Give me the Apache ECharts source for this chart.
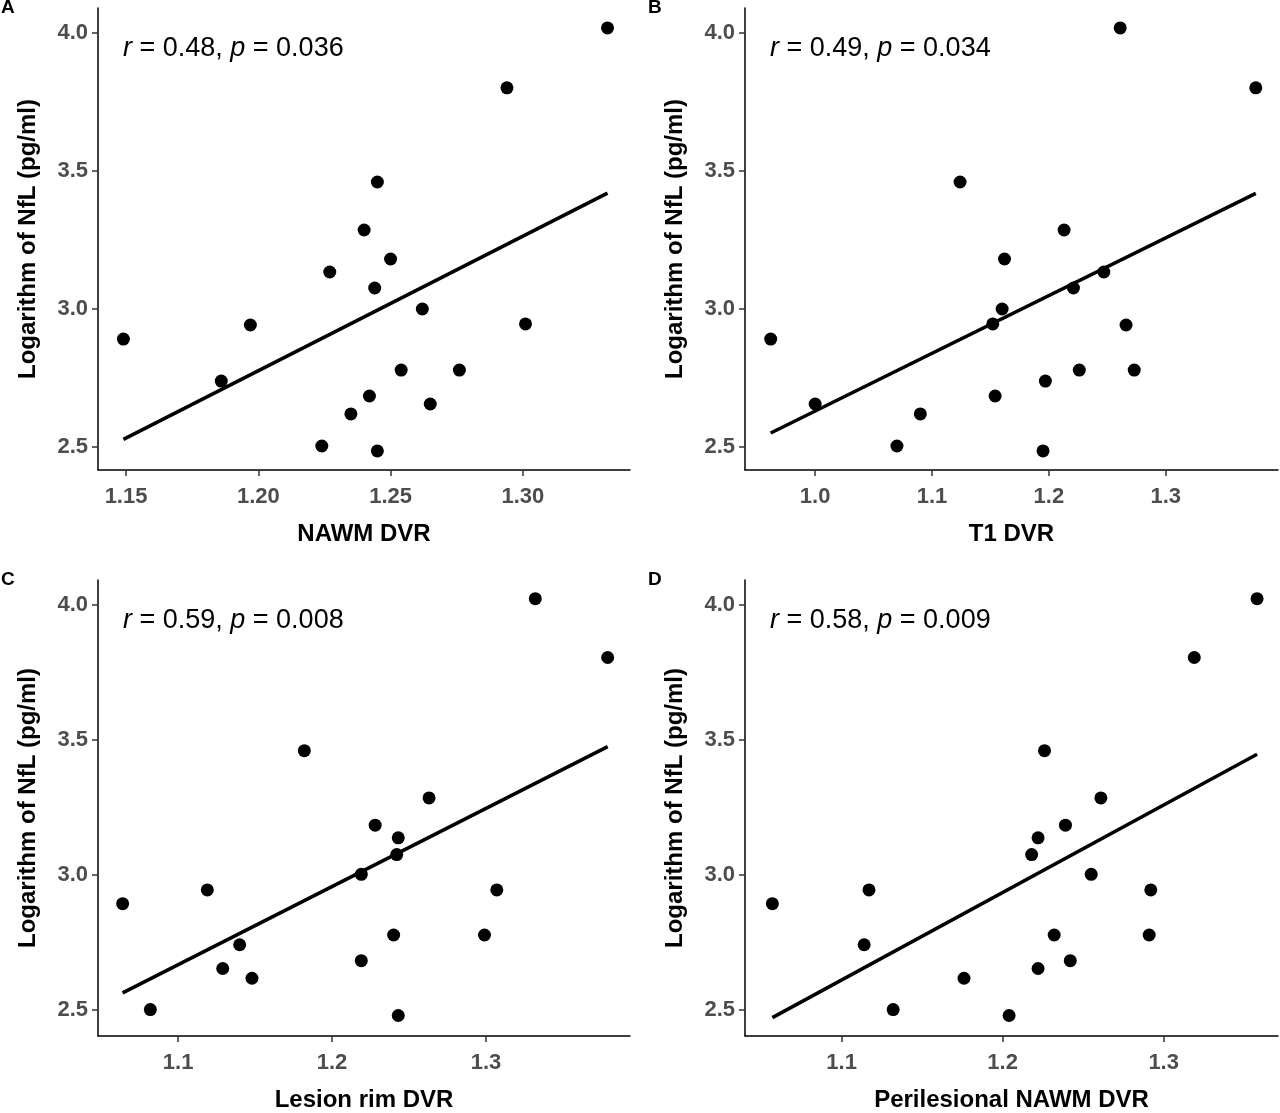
<!DOCTYPE html>
<html><head><meta charset="utf-8">
<script src="https://cdn.jsdelivr.net/npm/echarts@6/dist/echarts.min.js"></script>
<style>html,body{margin:0;background:#fff}#c{width:1280px;height:1113px}</style>
</head><body><div id="c"></div>
<script>
var nfl_A = [2.891,2.739,2.942,2.504,3.134,2.620,3.286,2.685,2.486,3.076,3.460,3.181,2.779,3.000,2.656,2.779,3.801,2.946,4.018];
var dvr_A = [1.149,1.186,1.197,1.224,1.227,1.235,1.240,1.242,1.245,1.244,1.245,1.250,1.254,1.262,1.265,1.276,1.294,1.301,1.332];
var nfl_B = [2.891,2.656,2.504,2.620,3.460,2.946,2.685,3.000,3.181,2.486,2.739,3.286,3.076,2.779,3.134,2.942,2.779,4.018,3.801];
var dvr_B = [0.962,1.000,1.070,1.090,1.124,1.152,1.154,1.160,1.162,1.195,1.197,1.213,1.221,1.226,1.247,1.266,1.273,1.261,1.377];
var nfl_C = [2.892,2.500,2.943,2.652,2.740,2.616,3.459,3.001,2.681,3.183,2.776,3.074,3.136,2.478,3.284,2.776,2.943,4.022,3.804];
var dvr_C = [1.064,1.082,1.119,1.129,1.140,1.148,1.182,1.219,1.219,1.228,1.240,1.242,1.243,1.243,1.263,1.299,1.307,1.332,1.379];
var nfl_D = [2.892,2.740,2.943,2.500,2.616,2.478,3.074,3.136,3.459,2.652,2.776,2.681,3.183,3.284,3.001,2.943,2.776,3.804,4.022];
var dvr_D = [1.057,1.114,1.117,1.132,1.176,1.204,1.218,1.222,1.226,1.222,1.232,1.242,1.239,1.261,1.255,1.292,1.291,1.319,1.358];
var yTicks = [2.5,3.0,3.5,4.0];
var xTicks_A = [1.15,1.20,1.25,1.30];
var xTicks_B = [1.0,1.1,1.2,1.3];
var xTicks_CD = [1.1,1.2,1.3];
var stats = [['0.48','0.036'],['0.49','0.034'],['0.59','0.008'],['0.58','0.009']];
var letters = ['A','B','C','D'];
var xNames = ['NAWM DVR','T1 DVR','Lesion rim DVR','Perilesional NAWM DVR'];

var panels = [
  {x:dvr_A,y:nfl_A,xt:xTicks_A,xmin:1.1394,xmax:1.3405,ymin:2.417,ymax:4.09,dec:2,left:98,top:8,w:532,h:462},
  {x:dvr_B,y:nfl_B,xt:xTicks_B,xmin:0.940,xmax:1.396,ymin:2.417,ymax:4.09,dec:1,left:745,top:8,w:533,h:462},
  {x:dvr_C,y:nfl_C,xt:xTicks_CD,xmin:1.048,xmax:1.3935,ymin:2.402,ymax:4.091,dec:1,left:98,top:580,w:532,h:465},
  {x:dvr_D,y:nfl_D,xt:xTicks_CD,xmin:1.040,xmax:1.371,ymin:2.402,ymax:4.091,dec:1,left:745,top:580,w:533,h:465}
];
function fit(xs,ys){
  var n=xs.length,mx=0,my=0,sxy=0,sxx=0;
  for(var i=0;i<n;i++){mx+=xs[i];my+=ys[i];}
  mx/=n;my/=n;
  for(i=0;i<n;i++){sxy+=(xs[i]-mx)*(ys[i]-my);sxx+=(xs[i]-mx)*(xs[i]-mx);}
  var b=sxy/sxx,a=my-b*mx,x0=Math.min.apply(null,xs),x1=Math.max.apply(null,xs);
  return [[x0,a+b*x0],[x1,a+b*x1]];
}
var F='Liberation Sans, Arial, sans-serif';
var grid=[],xAxis=[],yAxis=[],series=[],graphic=[];
panels.forEach(function(p,i){
  grid.push({left:p.left,top:p.top,width:p.w,height:p.h});
  xAxis.push({type:'value',gridIndex:i,min:p.xmin,max:p.xmax,splitLine:{show:false},
    axisLine:{lineStyle:{color:'#000',width:1.5}},
    axisTick:{customValues:p.xt,length:6,lineStyle:{color:'#333',width:1.5}},
    axisLabel:{customValues:p.xt,color:'#4d4d4d',fontWeight:'bold',fontSize:22,fontFamily:F,margin:16,
      formatter:function(v){return v.toFixed(p.dec);}},
    name:xNames[i],nameLocation:'middle',nameGap:52,
    nameTextStyle:{color:'#000',fontWeight:'bold',fontSize:24,fontFamily:F}});
  yAxis.push({type:'value',gridIndex:i,min:p.ymin,max:p.ymax,splitLine:{show:false},
    axisLine:{lineStyle:{color:'#000',width:1.5}},
    axisTick:{customValues:yTicks,length:6,lineStyle:{color:'#333',width:1.5}},
    axisLabel:{customValues:yTicks,color:'#4d4d4d',fontWeight:'bold',fontSize:22,fontFamily:F,margin:10,
      formatter:function(v){return v.toFixed(1);}},
    name:'Logarithm of NfL (pg/ml)',nameLocation:'middle',nameGap:58,
    nameTextStyle:{color:'#000',fontWeight:'bold',fontSize:24,fontFamily:F}});
  series.push({type:'scatter',xAxisIndex:i,yAxisIndex:i,symbolSize:13,itemStyle:{color:'#000',opacity:1},
    data:p.x.map(function(v,k){return [v,p.y[k]];}),z:3});
  series.push({type:'line',xAxisIndex:i,yAxisIndex:i,data:fit(p.x,p.y),symbol:'none',
    lineStyle:{color:'#000',width:3.5},z:2});
  graphic.push({type:'text',left:p.left-97,top:p.top-10,style:{text:letters[i],font:'bold 19px '+F,fill:'#000'}});
  graphic.push({type:'text',left:p.left+25,top:p.top+27,style:{
    text:'{i|r} = '+stats[i][0]+', {i|p} = '+stats[i][1],font:'27px '+F,fill:'#000',
    rich:{i:{fontStyle:'italic',fontSize:27,fontFamily:F}}}});
});
var chart=echarts.init(document.getElementById('c'));
chart.setOption({animation:false,backgroundColor:'#fff',grid:grid,xAxis:xAxis,yAxis:yAxis,series:series,graphic:graphic});
</script></body></html>
